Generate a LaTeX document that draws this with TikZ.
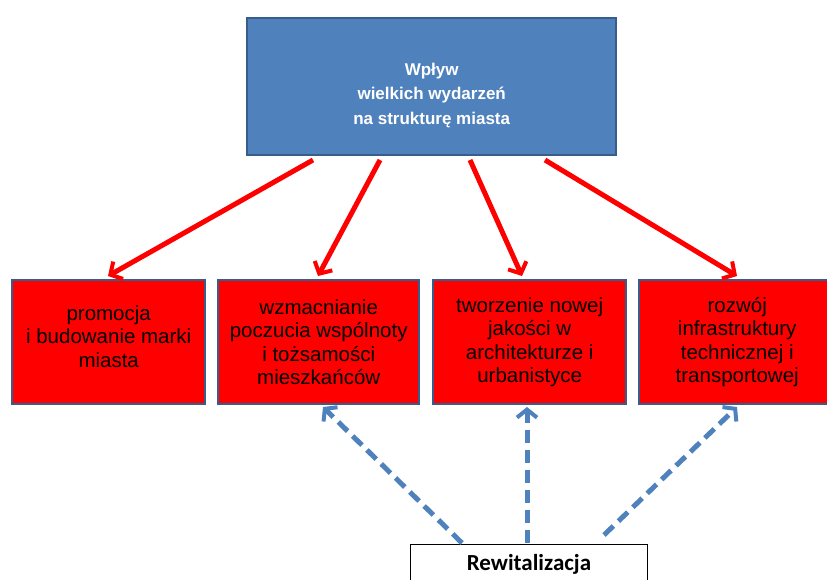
\documentclass[tikz,border=0pt]{standalone}
\usepackage{fontspec}
\setmainfont{Liberation Sans}
\newfontfamily\calib{Carlito}
\usetikzlibrary{arrows.meta}
\definecolor{pptblue}{HTML}{4F81BD}
\definecolor{pptborder}{HTML}{385D8A}
\definecolor{pptred}{HTML}{FF0000}
\tikzset{
  redbox/.style={draw=pptborder, line width=2.4pt, fill=pptred, inner sep=0pt, anchor=north west, text=black, align=center, font=\fontsize{20.5}{23.5}\selectfont},
  redarrow/.style={draw=pptred, line width=5pt, -{Straight Barb[length=9pt,width=20pt,line width=4pt]}},
  bluearrow/.style={draw=pptblue, line width=5pt, dash pattern=on 13pt off 7pt, -{Straight Barb[length=8pt,width=20pt,line width=4pt]}},
}
\begin{document}
\begin{tikzpicture}[x=1pt,y=-1pt]
\useasboundingbox (0,0) rectangle (827,579);
\node[draw=pptborder, line width=2.4pt, fill=pptblue, minimum width=369pt, minimum height=137pt, anchor=north west, text=white, align=center, font=\bfseries\fontsize{17}{24.5}\selectfont] (top) at (246,17) {\rule{0pt}{29pt}Wpływ\\wielkich wydarzeń\\na strukturę miasta};
\node[redbox, minimum width=193pt, minimum height=124pt, text depth=12pt] (b1) at (11,279) {promocja\\ i budowanie marki\\miasta};
\node[redbox, minimum width=201pt, minimum height=124pt] (b2) at (217,279) {wzmacnianie\\poczucia wspólnoty\\i tożsamości\\mieszkańców};
\node[redbox, minimum width=193pt, minimum height=124pt] (b3) at (432,279) {tworzenie nowej\\jakości w\\architekturze i\\urbanistyce};
\node[redbox, minimum width=196pt, minimum height=124pt] (b4) at (638,279) {rozwój\\infrastruktury\\technicznej i\\transportowej};
\node[draw=black, line width=1pt, fill=white, minimum width=237pt, minimum height=50pt, anchor=north west, font=\calib\bfseries\fontsize{23}{26}\selectfont, text depth=14pt] (rew) at (410,544) {Rewitalizacja};
% coordinates for arrow ends
\coordinate (t1) at (313,160); \coordinate (e1) at (108,276);
\coordinate (t2) at (380,160); \coordinate (e2) at (318,276);
\coordinate (t3) at (470,160); \coordinate (e3) at (522,276);
\coordinate (t4) at (545,160); \coordinate (e4) at (737,276);
\draw[redarrow] (t1) -- (e1);
\draw[redarrow] (t2) -- (e2);
\draw[redarrow] (t3) -- (e3);
\draw[redarrow] (t4) -- (e4);
\coordinate (r1) at (462,543); \coordinate (f1) at (323,407);
\coordinate (r2) at (527,543); \coordinate (f2) at (527,407);
\coordinate (r3) at (604,535); \coordinate (f3) at (737,407);
\draw[bluearrow] (r1) -- (f1);
\draw[bluearrow] (r2) -- (f2);
\draw[bluearrow] (r3) -- (f3);
\end{tikzpicture}
\end{document}
